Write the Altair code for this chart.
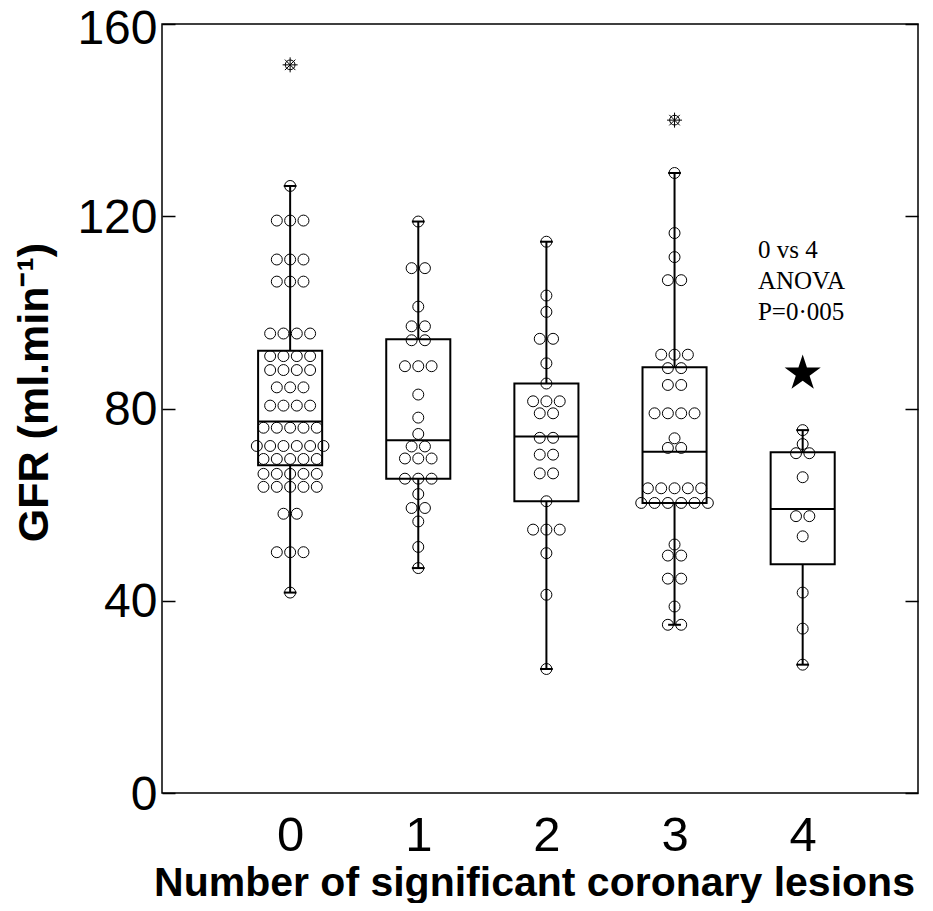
import altair as alt
import pandas as pd

# ---- data ----
groups = [0, 1, 2, 3, 4]

gfr_0 = [126.3, 119.1, 119.1, 119.1, 111.0, 111.0, 111.0, 106.4, 106.4, 106.4,
         95.6, 95.6, 95.6, 95.6, 90.9, 90.9, 90.9, 90.9, 88.0, 88.0, 88.0, 88.0,
         84.4, 84.4, 84.4, 80.6, 80.6, 80.6, 80.6, 76.0, 76.0, 76.0, 76.0, 76.0,
         72.2, 72.2, 72.2, 72.2, 72.2, 72.2, 69.5, 69.5, 69.5, 69.5, 69.5,
         66.4, 66.4, 66.4, 66.4, 66.4, 63.7, 63.7, 63.7, 63.7, 63.7,
         58.1, 58.1, 50.1, 50.1, 50.1, 41.7]
gfr_1 = [118.9, 109.2, 109.2, 101.2, 97.1, 97.1, 94.2, 94.2, 88.8, 88.8, 88.8,
         82.9, 78.1, 74.7, 72.1, 72.1, 69.6, 69.6, 69.6, 65.4, 65.4, 65.4,
         62.2, 59.3, 59.3, 56.5, 51.2, 46.8]
gfr_2 = [114.7, 103.5, 100.1, 94.5, 94.5, 89.4, 85.2, 81.5, 81.5, 81.5,
         79.0, 79.0, 73.9, 73.9, 70.4, 70.4, 66.5, 66.5, 60.7,
         54.8, 54.8, 54.8, 49.9, 41.25, 25.8]
gfr_3 = [129.0, 116.5, 111.5, 106.7, 106.7, 91.2, 91.2, 91.2, 88.4, 88.4,
         84.9, 84.9, 79.0, 79.0, 79.0, 79.0, 73.8, 71.8, 71.8,
         63.4, 63.4, 63.4, 63.4, 63.4, 60.35, 60.35, 60.35, 60.35, 60.35, 60.35,
         51.7, 49.4, 49.4, 44.6, 44.6, 38.8, 35.0, 35.0]
gfr_4 = [75.5, 72.6, 70.7, 70.7, 65.7, 57.6, 57.6, 53.4, 41.7, 34.2, 26.7]

box_q1 = [68.2, 65.4, 60.7, 60.35, 47.6]
box_median = [77.3, 73.4, 74.2, 71.0, 59.1]
box_q3 = [92.0, 94.4, 85.2, 88.6, 70.9]
whisker_lo = [41.7, 46.8, 25.8, 35.0, 26.7]
whisker_hi = [126.3, 118.9, 114.7, 129.0, 75.5]

outlier_group = [0, 3]
outlier_value = [151.5, 140.0]

star_group = [4]
star_value = [87.3]

note_lines = ["0 vs 4", "ANOVA", "P=0\u00b7005"]
note_x = [3.651, 3.651, 3.651]
note_y = [111.4, 104.8, 98.5]

y_ticks = [0, 40, 80, 120, 160]
x_ticks = [0, 1, 2, 3, 4]

# ---- tables ----
rows = []
for g, vals in zip(groups, [gfr_0, gfr_1, gfr_2, gfr_3, gfr_4]):
    for v in vals:
        rows.append({"group": g, "value": v})
pts = pd.DataFrame(rows)
box = pd.DataFrame({"group": groups, "q1": box_q1, "med": box_median,
                    "q3": box_q3, "lo": whisker_lo, "hi": whisker_hi})
outl = pd.DataFrame({"group": outlier_group, "value": outlier_value})
star = pd.DataFrame({"group": star_group, "value": star_value})
note = pd.DataFrame({"text": note_lines, "x": note_x, "y": note_y})

xs = alt.Scale(domain=[-1, 4.9], nice=False, zero=False)
ys = alt.Scale(domain=[0, 160], nice=False, zero=False)
FONT = "Liberation Sans"

x_axis = alt.Axis(values=x_ticks, format="d", ticks=False, tickSize=0, domain=False,
                  grid=False, labelFontSize=49, labelPadding=18, labelFont=FONT,
                  labelColor="black", labelFlush=False,
                  title="Number of significant coronary lesions", titleFont=FONT,
                  titleFontSize=41, titleFontWeight="bold", titleColor="black",
                  titleX=372, titleY=102, titleBaseline="alphabetic")
y_axis = alt.Axis(values=y_ticks, orient="left", offset=-13, tickSize=13,
                  tickWidth=1.5, tickColor="black", domain=False, grid=False,
                  labelFontSize=48, labelPadding=5, labelFont=FONT, labelColor="black",
                  labelOffset={"condition": {"test": "datum.value == 160", "value": 5},
                               "value": 2},
                  title="GFR (ml.min\u207b\u00b9)", titleFont=FONT, titleFontSize=43,
                  titleFontWeight="bold", titleColor="black", titleAngle=270,
                  titleBaseline="alphabetic", titleX=-128, titleY=368)
y_axis_r = alt.Axis(values=y_ticks, orient="right", offset=-13, tickSize=13,
                    tickWidth=1.5, tickColor="black", domain=False, grid=False,
                    labels=False, title=None)


def X(field):
    return alt.X(field, scale=xs, axis=x_axis)


bx = alt.Chart(box).transform_calculate(
    xl="datum.group - 0.25", xr="datum.group + 0.25",
    cl="datum.group - 0.05", cr="datum.group + 0.05")

whisk_up = bx.mark_rule(color="black", strokeWidth=2).encode(
    x=X("group:Q"),
    y=alt.Y("q3:Q", scale=ys, axis=None), y2="hi:Q")
whisk_dn = bx.mark_rule(color="black", strokeWidth=2).encode(
    x=X("group:Q"),
    y=alt.Y("lo:Q", scale=ys, axis=None), y2="q1:Q")
cap_hi = bx.mark_rule(color="black", strokeWidth=2).encode(
    x=X("cl:Q"), x2="cr:Q",
    y=alt.Y("hi:Q", scale=ys, axis=None))
cap_lo = bx.mark_rule(color="black", strokeWidth=2).encode(
    x=X("cl:Q"), x2="cr:Q",
    y=alt.Y("lo:Q", scale=ys, axis=None))
rect = bx.mark_rect(fillOpacity=0, stroke="black", strokeWidth=2).encode(
    x=X("xl:Q"), x2="xr:Q",
    y=alt.Y("q1:Q", scale=ys, axis=y_axis_r), y2="q3:Q")
median = bx.mark_rule(color="black", strokeWidth=2).encode(
    x=X("xl:Q"), x2="xr:Q",
    y=alt.Y("med:Q", scale=ys, axis=None))

dots = alt.Chart(pts).transform_window(
    rank="row_number()", groupby=["group", "value"]
).transform_joinaggregate(
    n="count()", groupby=["group", "value"]
).transform_calculate(
    xpos="datum.group + (datum.rank - (datum.n + 1) / 2) * 0.104"
).mark_point(shape="circle", size=120, filled=False, stroke="black",
             strokeWidth=1, opacity=1).encode(
    x=X("xpos:Q"),
    y=alt.Y("value:Q", scale=ys, axis=y_axis))

OUT_SHAPE = ("M0.65,0 A0.65,0.65 0 1,1 -0.65,0 A0.65,0.65 0 1,1 0.65,0 "
             "M-1,0 L1,0 M0,-1 L0,1 M-0.7,-0.7 L0.7,0.7 M-0.7,0.7 L0.7,-0.7")
outliers = alt.Chart(outl).mark_point(shape=OUT_SHAPE, size=225, filled=False,
                                      stroke="black", strokeWidth=1, opacity=1).encode(
    x=X("group:Q"),
    y=alt.Y("value:Q", scale=ys, axis=None))

STAR = ("M0,-1 L0.2245,-0.309 L0.951,-0.309 L0.363,0.118 L0.588,0.809 L0,0.382 "
        "L-0.588,0.809 L-0.363,0.118 L-0.951,-0.309 L-0.2245,-0.309 Z")
star_mark = alt.Chart(star).mark_point(shape=STAR, size=1444, filled=True,
                                       color="black", opacity=1).encode(
    x=X("group:Q"),
    y=alt.Y("value:Q", scale=ys, axis=None))

notes = alt.Chart(note).mark_text(align="left", baseline="alphabetic",
                                  font="Liberation Serif", fontSize=25,
                                  color="black").encode(
    x=X("x:Q"),
    y=alt.Y("y:Q", scale=ys, axis=None),
    text="text:N")

chart = alt.layer(
    dots, rect, whisk_up, whisk_dn, cap_hi, cap_lo, median, outliers, star_mark, notes
).resolve_scale(x="shared", y="shared").resolve_axis(y="independent").properties(
    width=756, height=769,
    autosize=alt.AutoSizeParams(type="none"),
    padding={"left": 154, "top": 16, "right": 3, "bottom": 110},
    background="white",
).configure_view(stroke="black", strokeWidth=1.5)

chart.save("out.html", embed_options={"renderer": "svg", "actions": False})
